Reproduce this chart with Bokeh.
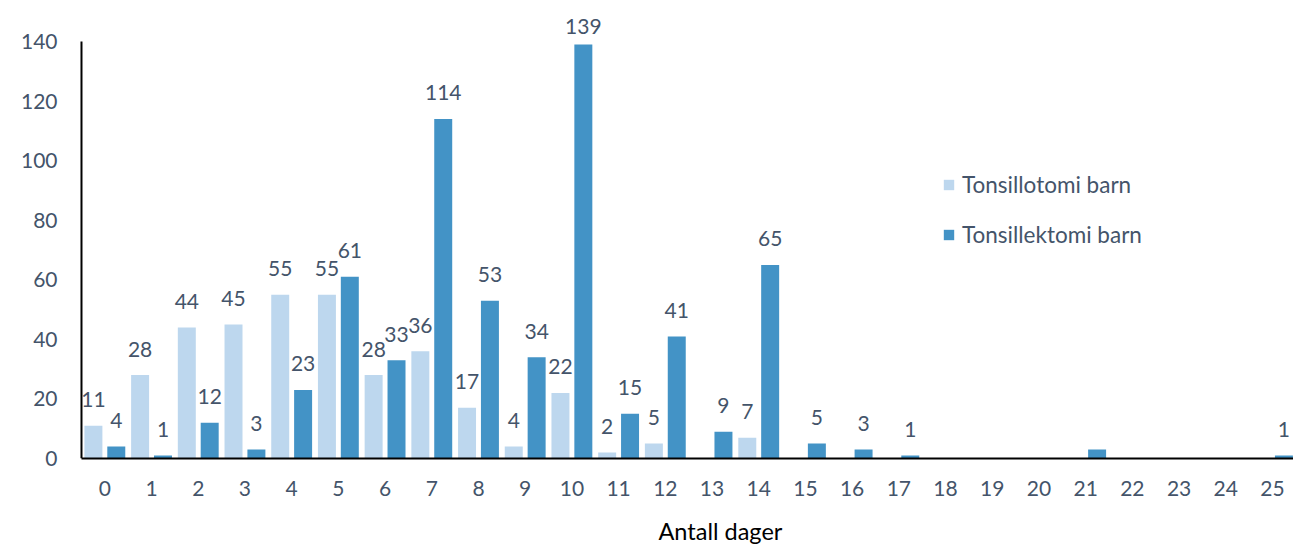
from bokeh.plotting import figure
from bokeh.models import (Range1d, FixedTicker, Legend, LegendItem, Label,
                          ColumnDataSource)
from bokeh.core.properties import value
from bokeh.transform import dodge
from bokeh.embed import file_html
from bokeh.resources import INLINE

# ---- data ----
days = list(range(26))
tonsillotomi = [11, 28, 44, 45, 55, 55, 28, 36, 17, 4, 22, 2, 5, 0, 7,
                0, 0, 0, 0, 0, 0, 0, 0, 0, 0, 0]
tonsillektomi = [4, 1, 12, 3, 23, 61, 33, 114, 53, 34, 139, 15, 41, 9, 65,
                 5, 3, 1, 0, 0, 0, 3, 0, 0, 0, 1]
series_names = ["Tonsillotomi barn", "Tonsillektomi barn"]
y_ticks = [0, 20, 40, 60, 80, 100, 120, 140]
x_title = "Antall dager"
unlabeled_ektomi_days = [21]   # bar without a data label in the original

# ---- style ----
LIGHT = "#BDD7EE"
DARK = "#4393C6"
TXT = "#44546A"
FONT = "Lato"
FS = "21px"

W, H = 1293, 548
LEFT, BOTTOM = 78, 90
frame_h = H - BOTTOM
PX_PER_UNIT = (458 - 41) / 140.0
y_top = frame_h / PX_PER_UNIT
x_start, x_end = -0.564, 25.45

p = figure(width=W, height=H, output_backend="svg", toolbar_location=None,
           x_range=Range1d(x_start, x_end), y_range=Range1d(0, y_top),
           min_border_left=LEFT, min_border_right=0, min_border_top=0,
           min_border_bottom=BOTTOM)
p.outline_line_color = None
p.xgrid.visible = False
p.ygrid.visible = False
p.background_fill_color = "white"

src = ColumnDataSource(dict(day=days, lotomi=tonsillotomi, lektomi=tonsillektomi))
OFF = 0.245
BW = 0.385
r1 = p.vbar(x=dodge("day", -OFF), top="lotomi", width=BW, source=src,
            fill_color=LIGHT, line_color=None)
r2 = p.vbar(x=dodge("day", OFF), top="lektomi", width=BW, source=src,
            fill_color=DARK, line_color=None)

# data labels
GAP = 26 / PX_PER_UNIT
CEIL = (458 - 25.5) / PX_PER_UNIT
lx, ly, lt = [], [], []
for d, a, b in zip(days, tonsillotomi, tonsillektomi):
    if a > 0:
        lx.append(d - OFF); ly.append(min(a + GAP, CEIL)); lt.append(str(a))
    if b > 0 and d not in unlabeled_ektomi_days:
        lx.append(d + OFF); ly.append(min(b + GAP, CEIL)); lt.append(str(b))
p.text(x=lx, y=ly, text=lt, text_align="center", text_baseline="middle",
       text_font=value(FONT), text_font_size=FS, text_color=TXT)

# y axis line (only up to last tick)
p.segment(x0=[-0.5], y0=[0], x1=[-0.5], y1=[y_ticks[-1]],
          line_color="black", line_width=2)

# axes
p.yaxis.ticker = FixedTicker(ticks=y_ticks)
p.yaxis.axis_line_color = None
p.yaxis.major_tick_line_color = None
p.yaxis.minor_tick_line_color = None
p.yaxis.major_tick_out = 0
p.yaxis.major_tick_in = 0
p.yaxis.major_label_standoff = 21
p.yaxis.major_label_text_font = FONT
p.yaxis.major_label_text_font_size = FS
p.yaxis.major_label_text_color = TXT

p.xaxis.ticker = FixedTicker(ticks=days)
p.xaxis.bounds = (-0.5, x_end)
p.xaxis.axis_line_color = "black"
p.xaxis.axis_line_width = 2
p.xaxis.major_tick_line_color = None
p.xaxis.minor_tick_line_color = None
p.xaxis.major_tick_out = 0
p.xaxis.major_tick_in = 0
p.xaxis.major_label_standoff = 22
p.xaxis.major_label_text_font = FONT
p.xaxis.major_label_text_font_size = FS
p.xaxis.major_label_text_color = TXT

# x-axis title, placed in the panel below the axis (offset right like the original)
title = Label(x=580, y=-4, x_units="screen", y_units="screen", text=x_title,
              text_align="left", text_baseline="middle",
              text_font=FONT, text_font_size="23.5px", text_color="black")
p.add_layout(title, "below")

legend = Legend(items=[LegendItem(label=series_names[0], renderers=[r1]),
                       LegendItem(label=series_names[1], renderers=[r2])],
                location=(864, 210), glyph_width=13, glyph_height=13,
                label_standoff=7, spacing=23, padding=0, label_height=24,
                border_line_color=None, background_fill_alpha=0,
                label_text_font=FONT, label_text_font_size="22.5px",
                label_text_color=TXT)
p.add_layout(legend)

open("out.html", "w").write(file_html(p, INLINE))
